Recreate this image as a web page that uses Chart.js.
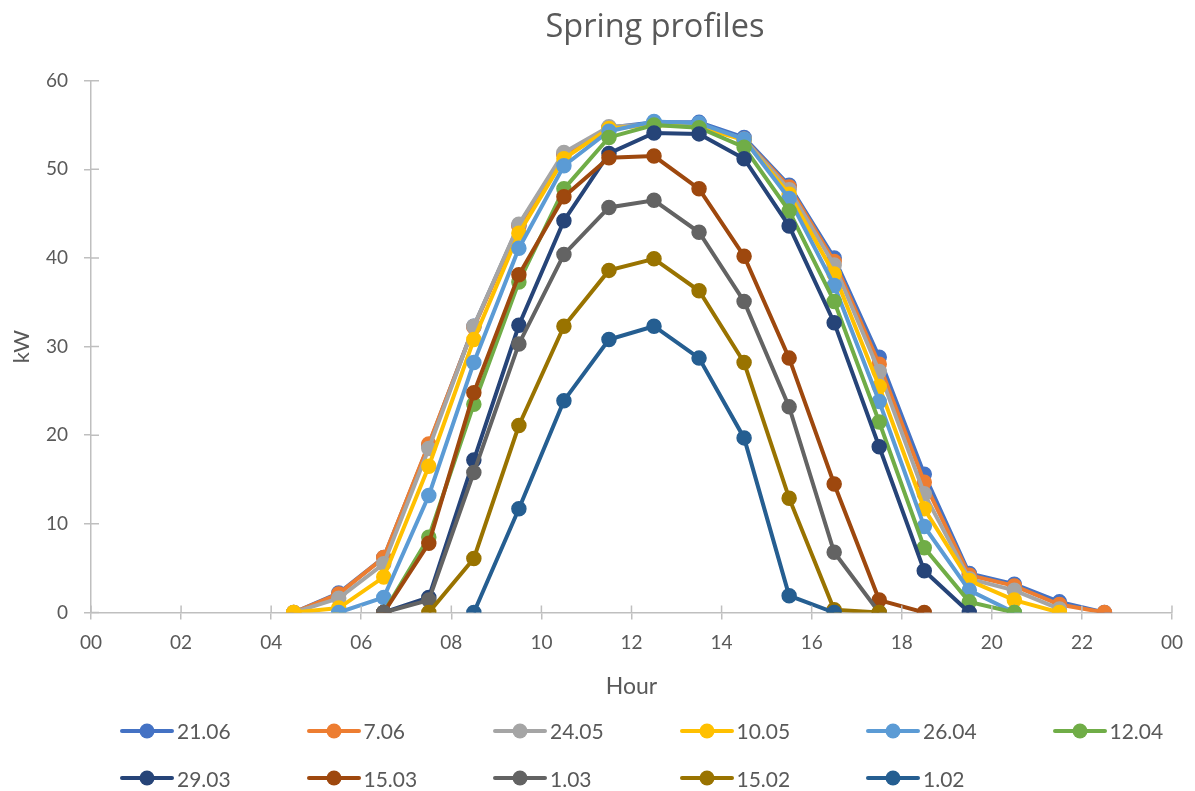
<!DOCTYPE html>
<html>
<head>
<meta charset="utf-8">
<script src="https://cdn.jsdelivr.net/npm/chart.js@4.4.1/dist/chart.umd.min.js"></script>
<style>
  html, body { margin: 0; padding: 0; background: #ffffff; }
  #wrap { position: relative; width: 1195px; height: 791px; }
  #c { position: absolute; left: 0; top: 0; }
  #title { position: absolute; left: 455px; width: 400px; top: 5px; height: 40px; line-height: 40px; text-align: center;
           font-family: "Open Sans", Lato, sans-serif; font-size: 32.5px; color: #595959; white-space: nowrap; }
  .lg { position: absolute; height: 20px; display: flex; align-items: center;
        font-family: Lato, "Open Sans", sans-serif; font-size: 21px; color: #595959; white-space: nowrap; }
  .lg svg { margin-right: 3px; }
</style>
</head>
<body>
<div id="wrap">
  <canvas id="c" width="1195" height="791"></canvas>
  <div id="title">Spring profiles</div>
</div>
<script>
// Hours (half-hour midpoints)
const hours = [4.5, 5.5, 6.5, 7.5, 8.5, 9.5, 10.5, 11.5, 12.5, 13.5, 14.5, 15.5, 16.5, 17.5, 18.5, 19.5, 20.5, 21.5, 22.5];

const seriesNames = ["21.06", "7.06", "24.05", "10.05", "26.04", "12.04", "29.03", "15.03", "1.03", "15.02", "1.02"];
const seriesColors = ["#4472C4", "#ED7D31", "#A5A5A5", "#FFC000", "#5B9BD5", "#70AD47", "#264478", "#9E480E", "#636363", "#997300", "#255E91"];

// Values (kW), aligned with hours; null = no point
const s2106 = [0, 2.2, 6.2, 18.9, 32.3, 43.7, 51.7, 54.7, 55.3, 55.3, 53.6, 48.2, 40.0, 28.8, 15.6, 4.4, 3.2, 1.2, 0];
const s0706 = [0, 2.1, 6.2, 19.0, 32.2, 43.6, 51.7, 54.7, 55.1, 55.0, 53.4, 48.0, 39.6, 28.0, 14.7, 4.2, 3.0, 0.9, 0];
const s2405 = [0, 1.6, 5.5, 18.5, 32.3, 43.8, 51.9, 54.8, 55.1, 55.0, 53.4, 47.7, 39.2, 27.2, 13.4, 3.8, 2.5, 0.4, null];
const s1005 = [0, 0.5, 4.0, 16.5, 30.8, 42.8, 51.2, 54.6, 55.0, 54.8, 53.3, 47.2, 38.2, 25.5, 11.7, 3.6, 1.4, 0, null];
const s2604 = [null, 0, 1.7, 13.2, 28.2, 41.1, 50.4, 54.3, 55.4, 55.2, 53.4, 46.7, 36.9, 23.8, 9.7, 2.5, 0, null, null];
const s1204 = [null, null, 0, 8.5, 23.5, 37.3, 47.8, 53.6, 55.0, 54.7, 52.5, 45.3, 35.1, 21.5, 7.3, 1.2, 0, null, null];
const s2903 = [null, null, 0, 1.7, 17.2, 32.4, 44.2, 51.8, 54.1, 54.0, 51.2, 43.6, 32.7, 18.7, 4.7, 0, null, null, null];
const s1503 = [null, null, 0, 7.8, 24.8, 38.1, 46.9, 51.3, 51.5, 47.8, 40.2, 28.7, 14.5, 1.4, 0, null, null, null, null];
const s0103 = [null, null, 0, 1.4, 15.8, 30.3, 40.4, 45.7, 46.5, 42.9, 35.1, 23.2, 6.8, 0, null, null, null, null, null];
const s1502 = [null, null, null, 0, 6.1, 21.1, 32.3, 38.6, 39.9, 36.3, 28.2, 12.9, 0.3, 0, null, null, null, null, null];
const s0102 = [null, null, null, null, 0, 11.7, 23.9, 30.8, 32.3, 28.7, 19.7, 1.9, 0, null, null, null, null, null, null];

const seriesValues = [s2106, s0706, s2405, s1005, s2604, s1204, s2903, s1503, s0103, s1502, s0102];

const xTicks = [0, 2, 4, 6, 8, 10, 12, 14, 16, 18, 20, 22, 24];
const xTickLabels = ["00", "02", "04", "06", "08", "10", "12", "14", "16", "18", "20", "22", "00"];
const yTicks = [0, 10, 20, 30, 40, 50, 60];

const FONT = "Lato, 'Open Sans', sans-serif";
const TXT = "#595959";
const AX = "#BFBFBF";

const datasets = seriesNames.map((name, i) => ({
  label: name,
  data: hours.map((h, k) => ({ x: h, y: seriesValues[i][k] })).filter(p => p.y !== null),
  borderColor: seriesColors[i],
  backgroundColor: seriesColors[i],
  pointBackgroundColor: seriesColors[i],
  pointBorderColor: seriesColors[i],
  borderWidth: 4,
  pointRadius: 7,
  pointBorderWidth: 1.5,
  tension: 0,
  fill: false,
  order: seriesNames.length - i
}));

// cross tick marks (inner half) like the reference
const crossTicks = {
  id: 'crossTicks',
  afterDraw(chart) {
    const ctx = chart.ctx;
    const xs = chart.scales.x, ys = chart.scales.y;
    ctx.save();
    ctx.strokeStyle = AX;
    ctx.lineWidth = 1.5;
    ctx.beginPath();
    xTicks.forEach(v => {
      const px = xs.getPixelForValue(v);
      ctx.moveTo(px, ys.bottom);
      ctx.lineTo(px, ys.bottom - 7);
    });
    yTicks.forEach(v => {
      const py = ys.getPixelForValue(v);
      ctx.moveTo(xs.left, py);
      ctx.lineTo(xs.left + 8, py);
    });
    ctx.stroke();
    ctx.restore();
  }
};

new Chart(document.getElementById('c'), {
  type: 'line',
  data: { datasets },
  plugins: [crossTicks],
  options: {
    responsive: false,
    animation: false,
    events: [],
    layout: { padding: { left: 0, right: 21, top: 80.7, bottom: 78.5 } },
    plugins: {
      legend: { display: false },
      tooltip: { enabled: false },
      title: { display: false }
    },
    scales: {
      x: {
        type: 'linear',
        min: 0, max: 24,
        afterBuildTicks(scale) { scale.ticks = xTicks.map(v => ({ value: v })); },
        afterFit(scale) { scale.height = 100; },
        ticks: {
          color: TXT,
          font: { family: FONT, size: 19 },
          padding: 12,
          maxRotation: 0,
          autoSkip: false,
          callback: (v, idx) => xTickLabels[idx]
        },
        grid: { display: true, drawOnChartArea: false, drawTicks: true, tickLength: 7, color: AX, lineWidth: 1.5 },
        border: { display: true, color: AX, width: 1.5 },
        title: {
          display: true, text: 'Hour', color: TXT,
          font: { family: FONT, size: 23 },
          padding: { top: 0, bottom: 12.2 }
        }
      },
      y: {
        min: 0, max: 60,
        afterBuildTicks(scale) { scale.ticks = yTicks.map(v => ({ value: v })); },
        afterFit(scale) { scale.width = 91; },
        ticks: {
          color: TXT,
          font: { family: FONT, size: 19 },
          padding: 16
        },
        grid: { display: true, drawOnChartArea: false, drawTicks: true, tickLength: 7, color: AX, lineWidth: 1.5 },
        border: { display: true, color: AX, width: 1.5 },
        title: {
          display: true, text: 'kW', color: TXT,
          font: { family: FONT, size: 22 },
          padding: { top: 9, bottom: 0 }
        }
      }
    }
  }
});

// HTML legend in fixed columns like the reference
const wrap = document.getElementById('wrap');
seriesNames.forEach((name, i) => {
  const row = Math.floor(i / 6), col = i % 6;
  const d = document.createElement('div');
  d.className = 'lg';
  d.style.left = (120 + col * 186.5) + 'px';
  d.style.top = (730.7 + row * 47.6 - 10) + 'px';
  const c = seriesColors[i];
  d.innerHTML = '<svg width="54" height="20" viewBox="0 0 54 20">' +
    '<line x1="2" y1="10" x2="52" y2="10" stroke="' + c + '" stroke-width="4" stroke-linecap="round"/>' +
    '<circle cx="27" cy="10" r="7.5" fill="' + c + '"/></svg>' +
    '<span>' + name + '</span>';
  wrap.appendChild(d);
});
</script>
</body>
</html>
